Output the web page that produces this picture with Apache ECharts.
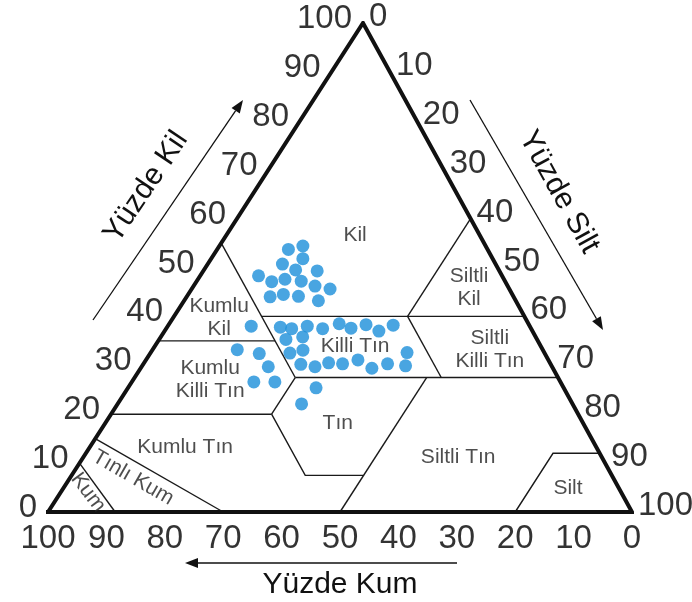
<!DOCTYPE html>
<html>
<head>
<meta charset="utf-8">
<script src="https://cdn.jsdelivr.net/npm/echarts@6/dist/echarts.min.js"></script>
<style>
html,body{margin:0;padding:0;background:#fff;}
#chart{width:692px;height:602px;}
</style>
</head>
<body>
<div id="chart"></div>
<script>
// ---- Data: soil samples (percent) ----
const sampleClay = [53.7,54.4,51.8,50.7,49.5,49.3,48.3,47.1,47.6,47.2,46.2,45.6,44.0,44.5,44.1,43.2,
  38.0,37.8,37.5,38.0,37.5,38.5,37.6,38.3,37.0,38.2,35.3,35.8,33.2,32.4,32.5,33.1,32.6,
  29.7,30.2,29.7,30.5,30.3,31.1,29.4,30.3,29.9,26.6,26.6,25.4,22.1];
const sampleSilt = [12.2,14.3,15.7,12.8,15.7,19.5,10.0,12.9,14.9,17.9,20.8,23.7,14.3,16.3,19.1,23.0,
  14.3,19.4,21.5,23.9,26.8,29.1,31.6,33.8,36.7,38.5,21.7,24.3,14.5,18.7,23.9,25.8,43.9,
  21.7,27.0,29.7,31.6,34.1,36.3,39.6,41.8,45.1,20.9,24.5,32.2,31.5];
const sampleSand = [34.1,31.3,32.5,36.5,34.8,31.2,41.7,40.0,37.5,34.9,33.0,30.7,41.7,39.2,36.8,33.8,
  47.7,42.8,41.0,38.1,35.7,32.4,30.8,27.9,26.3,23.3,43.0,39.9,52.3,48.9,43.6,41.1,23.5,
  48.6,42.8,40.6,37.9,35.6,32.6,31.0,27.9,25.0,52.5,48.9,42.4,46.4];

// ---- Axis ticks ----
const tickValues = [0,10,20,30,40,50,60,70,80,90,100];
const tickLabels = ['0','10','20','30','40','50','60','70','80','90','100'];

// ---- Texture class boundaries [sand, silt, clay] polylines ----
const boundaries = [
  [[45,15,40],[0,60,40]],
  [[45,0,55],[45,27.5,27.5]],
  [[65,0,35],[45,20,35]],
  [[45,27.5,27.5],[0,72.5,27.5]],
  [[45,27.5,27.5],[52.5,27.5,20]],
  [[80,0,20],[52.5,27.5,20]],
  [[52.5,27.5,20],[52.5,40,7.5],[42.5,50,7.5]],
  [[22.5,50,27.5],[50,50,0]],
  [[20,40,40],[0,40,60]],
  [[20,40,40],[20,52.5,27.5]],
  [[20,80,0],[8,80,12],[0,88,12]],
  [[85,0,15],[70,30,0]],
  [[90,0,10],[88.5,11.5,0]]
];

// ---- Class names and anchor points [sand, silt, clay] ----
const regionNames = ['Kil','Siltli\nKil','Kumlu\nKil','Kumlu\nKilli Tın','Killi Tın','Siltli\nKilli Tın',
  'Tın','Kumlu Tın','Siltli Tın','Silt','Tınlı Kum','Kum'];
const regionAnchors = [[21.3,22.0,56.7],[6.8,47.4,45.8],[52.4,7.9,39.7],[59.8,13.2,27.0],[31.8,34.3,33.9],
  [9.1,57.8,33.1],[42.0,39.8,18.2],[70.4,16.3,13.3],[24.6,64.2,11.2],[8.7,86.4,4.9],[82.2,10.8,7.0],[91.3,4.7,4.0]];
const regionRotate = [0,0,0,0,0,0,0,0,0,0,-30,-53];

const SKEW = (363 - 48) / 584; // horizontal position of apex on base
function toXY(p) { return [p[1] + SKEW * p[2], p[2]]; }

const FONT = '"Liberation Sans", Arial, sans-serif';
const chart = echarts.init(document.getElementById('chart'));

const triangle = [[100,0,0],[0,100,0],[0,0,100],[100,0,0]].map(toXY);

const leftTicks = tickValues.map((v,i) => ({value: toXY([100-v,0,v]), name: tickLabels[i]}));
const rightTicks = tickValues.map((v,i) => ({value: toXY([0,v,100-v]), name: tickLabels[i]}));
const bottomTicks = tickValues.map((v,i) => ({value: toXY([v,100-v,0]), name: tickLabels[i]}));

const tickLabelStyle = {fontSize: 33, color: '#000', fontFamily: FONT};

function arrow(x1, y1, x2, y2) {
  const a = Math.atan2(y2 - y1, x2 - x1), L = 13, W = 5;
  const bx = x2 - L * Math.cos(a), by = y2 - L * Math.sin(a);
  return [
    {type:'line', shape:{x1, y1, x2: bx, y2: by}, style:{stroke:'#111', lineWidth:1.3}},
    {type:'polygon', shape:{points:[[x2,y2],[bx + W*Math.sin(a), by - W*Math.cos(a)],[bx - W*Math.sin(a), by + W*Math.cos(a)]]}, style:{fill:'#111'}}
  ];
}

const option = {
  animation: false,
  backgroundColor: '#fff',
  grid: {left: 48, right: 60, top: 23, bottom: 90},
  xAxis: {type:'value', min:0, max:100, show:false},
  yAxis: {type:'value', min:0, max:100, show:false},
  series: [
    {
      type:'lines', coordinateSystem:'cartesian2d', polyline:true, silent:true, z:2,
      lineStyle:{color:'#1a1a1a', width:1.4, opacity:1},
      data: boundaries.map(b => ({coords: b.map(toXY)}))
    },
    {
      type:'line', data: triangle, symbol:'none', silent:true, z:3,
      lineStyle:{color:'#111', width:4, join:'miter', cap:'square'}
    },
    {
      type:'scatter', z:5, symbolSize: 13,
      itemStyle:{color:'#1b8fd9'},
      data: sampleClay.map((c,i) => toXY([sampleSand[i], sampleSilt[i], c]))
    },
    {
      type:'scatter', symbolSize:0, silent:true, z:4,
      label:{show:true, position:'inside', formatter: p => p.name, fontSize:21, lineHeight:23, color:'#222', fontFamily: FONT},
      data: regionNames.map((n,i) => ({name:n, value: toXY(regionAnchors[i]), label:{rotate: regionRotate[i]}}))
    },
    {
      type:'scatter', symbolSize:0, silent:true,
      label:Object.assign({show:true, position:'left', distance:11, offset:[0,-4], formatter: p => p.name}, tickLabelStyle),
      data: leftTicks
    },
    {
      type:'scatter', symbolSize:0, silent:true,
      label:Object.assign({show:true, position:'right', distance:6, offset:[0,-6], formatter: p => p.name}, tickLabelStyle),
      data: rightTicks
    },
    {
      type:'scatter', symbolSize:0, silent:true,
      label:Object.assign({show:true, position:'bottom', distance:10, formatter: p => p.name}, tickLabelStyle),
      data: bottomTicks
    }
  ],
  graphic: [
    ...arrow(93, 320, 243, 100),
    ...arrow(470, 100, 603, 330),
    ...arrow(457, 563, 185, 563),
    {type:'text', x:146, y:187, rotation: 56*Math.PI/180,
      style:{text:'Yüzde Kil', fontSize:30, fontFamily:FONT, fill:'#111', align:'center', verticalAlign:'middle'}},
    {type:'text', x:559, y:192, rotation: -61*Math.PI/180,
      style:{text:'Yüzde Silt', fontSize:30, fontFamily:FONT, fill:'#111', align:'center', verticalAlign:'middle'}},
    {type:'text', x:340, y:585,
      style:{text:'Yüzde Kum', fontSize:30, fontFamily:FONT, fill:'#111', align:'center', verticalAlign:'middle'}}
  ]
};
chart.setOption(option);
</script>
</body>
</html>
